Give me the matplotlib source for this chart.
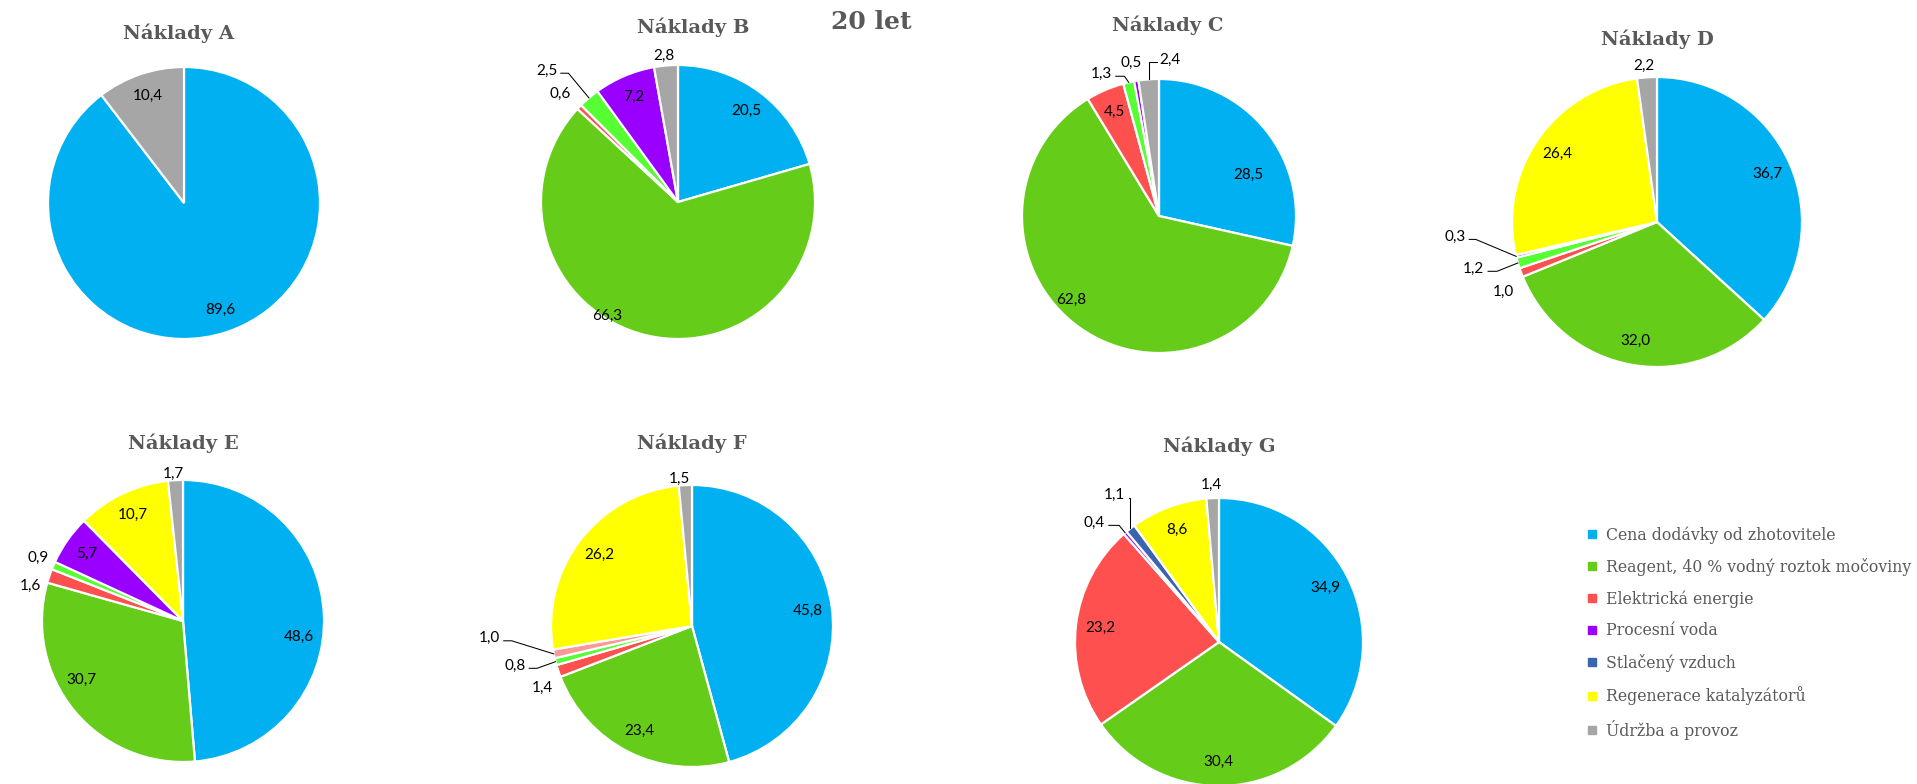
import numpy as np
import matplotlib
matplotlib.use("Agg")
import matplotlib.pyplot as plt
from matplotlib.lines import Line2D

W, H = 1917, 784

# categories in clockwise order of the slices (two helper ones are not in the legend)
categories = ["Cena dodávky od zhotovitele", "Reagent, 40 % vodný roztok močoviny",
              "Elektrická energie", "světle zelená", "Procesní voda", "růžová",
              "Stlačený vzduch", "Regenerace katalyzátorů", "Údržba a provoz"]
colors = ["#00B0F0", "#66CC1A", "#FF5050", "#55FF33", "#9900FF", "#FF9999",
          "#3A64B0", "#FFFF00", "#A6A6A6"]
in_legend = [0, 1, 2, 4, 6, 7, 8]

naklady_a = [89.6, 0, 0, 0, 0, 0, 0, 0, 10.4]
naklady_b = [20.5, 66.3, 0.6, 2.5, 7.2, 0, 0, 0, 2.8]
naklady_c = [28.5, 62.8, 4.5, 1.3, 0.5, 0, 0, 0, 2.4]
naklady_d = [36.7, 32.0, 1.0, 1.2, 0.3, 0, 0, 26.4, 2.2]
naklady_e = [48.6, 30.7, 1.6, 0.9, 5.7, 0, 0, 10.7, 1.7]
naklady_f = [45.8, 23.4, 1.4, 0.8, 0, 1.0, 0, 26.2, 1.5]
naklady_g = [34.9, 30.4, 23.2, 0, 0.4, 0, 1.1, 8.6, 1.4]

titles = ["Náklady A", "Náklady B", "Náklady C", "Náklady D",
          "Náklady E", "Náklady F", "Náklady G"]
series = [naklady_a, naklady_b, naklady_c, naklady_d, naklady_e, naklady_f, naklady_g]

# layout in pixels: pie centre, radius, title position
layout = {
    "Náklady A": ((184, 203), 136, (178, 33)),
    "Náklady B": ((678, 202), 137, (693, 27)),
    "Náklady C": ((1159, 216), 137, (1168, 25)),
    "Náklady D": ((1657, 222), 145, (1657, 39)),
    "Náklady E": ((183, 621), 141, (183, 443)),
    "Náklady F": ((692, 626), 141, (692, 443)),
    "Náklady G": ((1219, 642), 144, (1219, 446)),
}

# label positions (in pie radius units) where excel moved them
label_pos = {
    "Náklady B": {1: (-0.52, -0.83), 2: (-0.86, 0.79), 8: (-0.10, 1.07)},
    "Náklady C": {0: (0.65, 0.30), 1: (-0.64, -0.61), 4: (-0.20, 1.12)},
    "Náklady D": {2: (-1.06, -0.48), 8: (-0.09, 1.08)},
    "Náklady E": {0: (0.82, -0.11), 1: (-0.72, -0.42), 2: (-1.08, 0.25),
                  3: (-1.03, 0.45), 8: (-0.07, 1.04)},
    "Náklady F": {2: (-1.06, -0.44), 8: (-0.09, 1.04)},
    "Náklady G": {8: (-0.05, 1.09)},
}
# labels with leader lines: (x, y, ha, elbow fraction)
leaders = {
    "Náklady B": {3: (-0.88, 0.96, "right", 0.27)},
    "Náklady C": {3: (-0.34, 1.04, "right", 0.67), 8: (0.0, 1.14, "left", 1.0)},
    "Náklady D": {4: (-1.32, -0.10, "right", 0.14), 3: (-1.19, -0.32, "right", 0.3)},
    "Náklady F": {5: (-1.36, -0.085, "right", 0.16), 3: (-1.18, -0.28, "right", 0.3)},
    "Náklady G": {6: (-0.65, 1.02, "right", 1.0), 4: (-0.79, 0.83, "right", 0.63)},
}

title_color = "#595959"
label_font = dict(family="Lato", size=11, color="black")


def fmt(v):
    return f"{v:.1f}".replace(".", ",")


fig = plt.figure(figsize=(W / 100, H / 100), dpi=100)

for name, vals in zip(titles, series):
    (cx, cy), r, (tx, ty) = layout[name]
    ax = fig.add_axes([(cx - r) / W, 1 - (cy + r) / H, 2 * r / W, 2 * r / H])
    idx = [i for i, v in enumerate(vals) if v > 0]
    wedges, _ = ax.pie([vals[i] for i in idx], colors=[colors[i] for i in idx],
                       startangle=90, counterclock=False,
                       wedgeprops=dict(edgecolor="white", linewidth=1.6))
    ax.set_xlim(-1, 1)
    ax.set_ylim(-1, 1)
    ax.axis("off")

    for w, i in zip(wedges, idx):
        mid = np.deg2rad((w.theta1 + w.theta2) / 2)
        ex, ey = np.cos(mid), np.sin(mid)
        txt = fmt(vals[i])
        if i in leaders.get(name, {}):
            x, y, ha, f = leaders[name][i]
            ax.text(x, y, txt, ha=ha, va="center", **label_font)
            if ha == "right":
                sx, sy = x + 0.025, y - 0.02
            else:
                sx, sy = x - 0.015, y - 0.015
            elbow_x = sx + f * (ex - sx)
            ax.plot([sx, elbow_x, ex], [sy, sy, ey], color="black", lw=0.75,
                    clip_on=False)
        else:
            x, y = label_pos.get(name, {}).get(i, (0.83 * ex, 0.83 * ey))
            ax.text(x, y, txt, ha="center", va="center", **label_font)

    fig.text(tx / W, 1 - ty / H, name, ha="center", va="center",
             family="DejaVu Serif", weight="bold", size=14, color=title_color)

fig.text(871 / W, 1 - 22 / H, "20 let", ha="center", va="center",
         family="DejaVu Serif", weight="bold", size=18, color=title_color)

handles = [Line2D([], [], marker="s", linestyle="none", color=colors[i],
                  markersize=6) for i in in_legend]
fig.legend(handles, [categories[i] for i in in_legend], loc="upper left",
           bbox_to_anchor=(1586 / W, 1 - 526 / H), frameon=False,
           prop=dict(family="DejaVu Serif", size=11.3), labelcolor=title_color,
           handlelength=0.8, handletextpad=0.45, labelspacing=0.92,
           borderaxespad=0, borderpad=0)

fig.savefig("out.png", dpi=100)
